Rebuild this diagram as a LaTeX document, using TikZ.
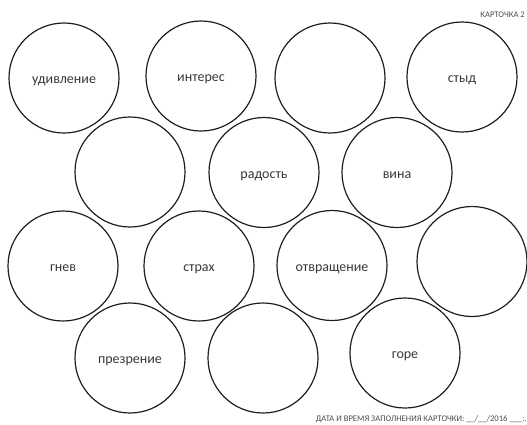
\documentclass[tikz,border=0pt]{standalone}
\usepackage{fontspec}
\setmainfont{Carlito}
\begin{document}
\begin{tikzpicture}[x=1pt,y=-1pt,
  emo/.style={circle,draw=black!88,line width=1.2pt,minimum size=110pt,inner sep=0pt,
    font=\fontsize{14}{16}\selectfont,text=black!78,text height=2.5ex,text depth=0pt},
  small/.style={font=\fontsize{8.6}{10}\selectfont,text=black!70,inner sep=0pt}]
\useasboundingbox (0,0) rectangle (527,424);
% row 1
\node[emo] (c1) at (64,78) {удивление};
\node[emo] (c2) at (201,76) {интерес};
\node[emo] (c3) at (330,78) {};
\node[emo] (c4) at (462,77) {стыд};
% row 2
\node[emo] (c5) at (130,172) {};
\node[emo] (c6) at (264,172.5) {радость};
\node[emo] (c7) at (397,172.5) {вина};
% row 3
\node[emo] (c8) at (63,266) {гнев};
\node[emo] (c9) at (199,266) {страх};
\node[emo] (c10) at (332,265.5) {отвращение};
\node[emo] (c11) at (472,261.5) {};
% row 4
\node[emo] (c12) at (130,358) {презрение};
\node[emo] (c13) at (263,358) {};
\node[emo] (c14) at (405,353) {горе};
% captions
\node[small,anchor=east] (t1) at (525,15) {КАРТОЧКА 2};
\node[small,anchor=east] (t2) at (527,419) {ДАТА И ВРЕМЯ ЗАПОЛНЕНИЯ КАРТОЧКИ: \_\_/\_\_/2016 \_\_\_:.};
\end{tikzpicture}
\end{document}
